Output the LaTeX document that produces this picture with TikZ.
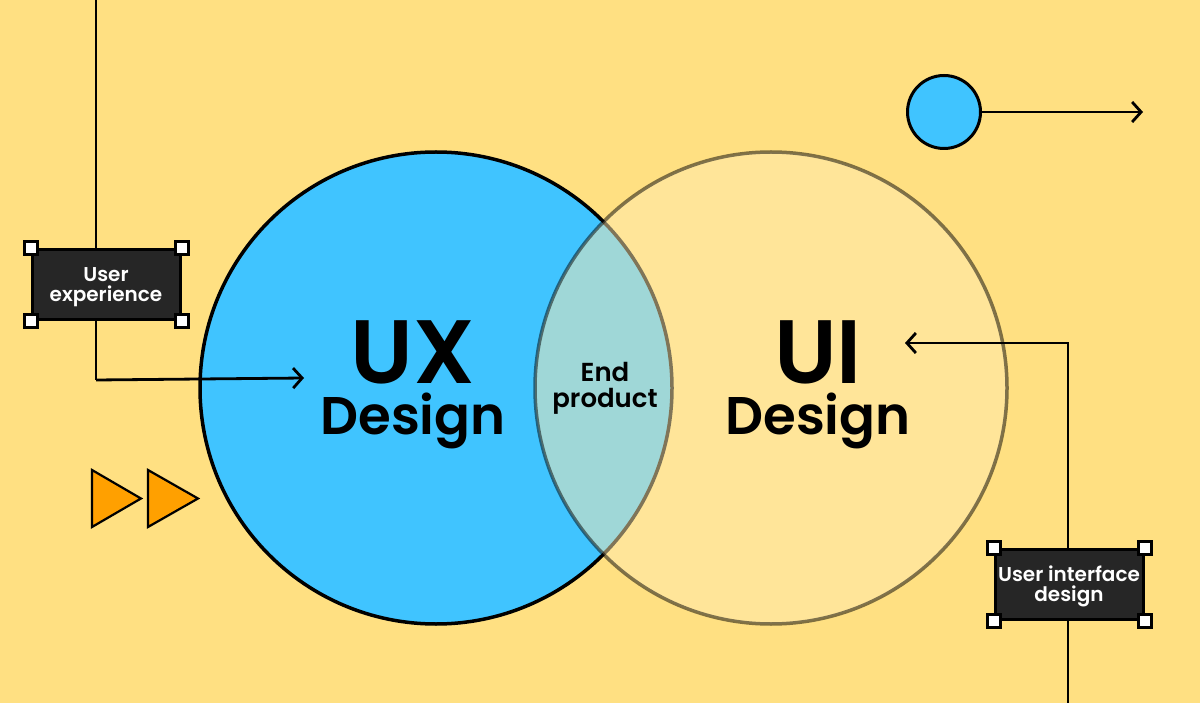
\documentclass[tikz,border=0pt]{standalone}
\usepackage{fontspec}
\setmainfont{Poppins}[BoldFont={* SemiBold}]
\usetikzlibrary{arrows.meta}
\definecolor{bgcol}{RGB}{255,224,130}
\definecolor{uxblue}{RGB}{64,196,255}
\definecolor{uifill}{RGB}{255,234,176}
\definecolor{boxdark}{RGB}{38,38,38}
\definecolor{orangetri}{RGB}{255,160,0}
\tikzset{
  conn/.style={line width=2.8pt, draw=black},
  tip/.style={-{Straight Barb[length=9pt,width=20pt]}},
  labelbox/.style={draw=black, line width=3pt, fill=boxdark, minimum width=148pt, minimum height=70pt, inner sep=0pt},
  boxtxt/.style={text=white, align=center, inner sep=0pt, font=\fontsize{20}{21}\selectfont\bfseries},
  handle/.style={draw=black, line width=3pt, fill=white, minimum size=13pt, inner sep=0pt},
  tri/.style={draw=black, line width=2.2pt, fill=orangetri, line join=miter},
  designtxt/.style={font=\fontsize{53}{51}\selectfont\bfseries, inner sep=0pt, align=center},
  smalltxt/.style={font=\fontsize{26}{26}\selectfont\bfseries, align=center, inner sep=0pt}
}
\newcommand{\bigword}[1]{{\fontsize{90}{90}\selectfont #1}}
\begin{document}
\begin{tikzpicture}[x=1pt,y=-1pt]
\fill[bgcol] (0,0) rectangle (1200,703);
\useasboundingbox (0,0) rectangle (1200,703);
% circles
\node[circle, draw=black, line width=3.5pt, fill=uxblue, minimum size=472pt, inner sep=0pt] (ux) at (436,388) {};
\node[circle, draw=black, line width=3.5pt, fill=uifill, opacity=0.5, minimum size=472pt, inner sep=0pt] (ui) at (771,388) {};
% small circle and arrow
\node[circle, draw=black, line width=3pt, fill=uxblue, minimum size=73pt, inner sep=0pt] (dot) at (944,112) {};
\coordinate (dotend) at (1143,112);
\draw[conn, tip] (dot.east) -- (dotend);
% left connector
\coordinate (ltop) at (96,0);
\coordinate (lcorner) at (96,380);
\coordinate (lend) at (304,378);
\draw[conn] (ltop) -- (lcorner);
\draw[conn, tip] (lcorner) -- (lend);
% right connector
\coordinate (rbot) at (1068,703);
\coordinate (rcorner) at (1068,343);
\coordinate (rend) at (905,343);
\draw[conn, tip] (rbot) -- (rcorner) -- (rend);
% boxes
\node[labelbox] (uxbox) at (106,285) {};
\foreach \a in {north west, north east, south west, south east}
  \node[handle] at (uxbox.\a) {};
\node[boxtxt] (uxboxtxt) at (106,287) {User\\[-1pt]experience};
\node[labelbox] (uibox) at (1069,584.5) {};
\foreach \a in {north west, north east, south west, south east}
  \node[handle] at (uibox.\a) {};
\node[boxtxt] (uiboxtxt) at (1069,586) {User interface\\[-1pt]design};
% triangles
\draw[tri] (92,470) -- (92,527) -- (141,498.5) -- cycle;
\draw[tri] (148,470) -- (148,527) -- (198,498.5) -- cycle;
% texts
\node[designtxt] (uxt) at (413,385) {\bigword{UX}\\Design};
\node[designtxt] (uit) at (818,385) {\bigword{UI}\\Design};
\node[smalltxt] (endp) at (605,388) {End\\product};
\end{tikzpicture}
\end{document}
